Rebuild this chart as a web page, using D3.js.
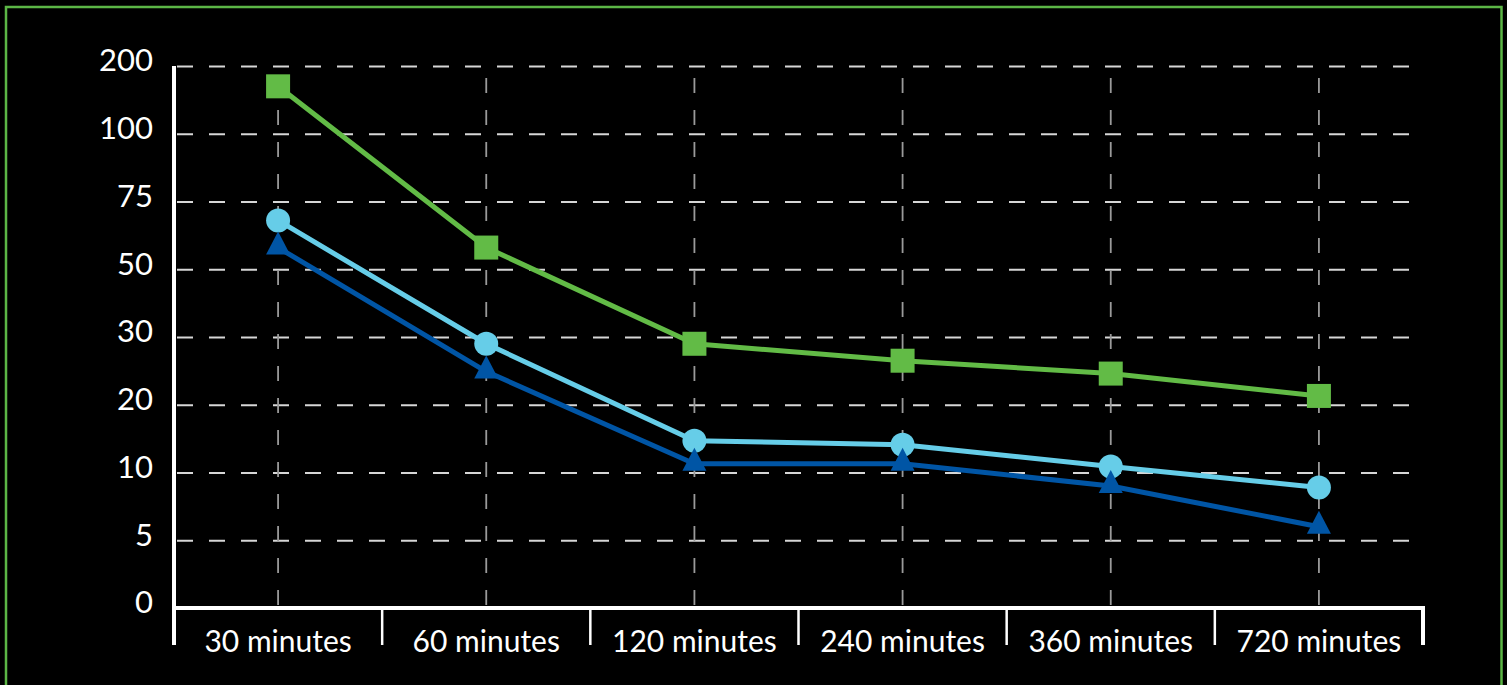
<!DOCTYPE html>
<html><head><meta charset="utf-8">
<script src="https://cdn.jsdelivr.net/npm/d3@7/dist/d3.min.js"></script>
<style>html,body{margin:0;padding:0;background:#000;overflow:hidden}</style>
</head><body>
<svg id="c" width="1507" height="685"></svg>
<script>
const categories = ["30 minutes","60 minutes","120 minutes","240 minutes","360 minutes","720 minutes"];
const yTicks = [0,5,10,20,30,50,75,100,200];
const greenSquares = [170,58,29,26.5,24.6,21.3];
const lightBlueCircles = [68,29,14.7,14.1,10.9,8.9];
const darkBlueTriangles = [58,24.9,11.3,11.3,9.0,6.0];

(function(){
const svg = d3.select("#c");
const W=1507,H=685;
svg.append("rect").attr("width",W).attr("height",H).attr("fill","#000");
svg.append("rect").attr("x",6).attr("y",7).attr("width",1495.5).attr("height",H+10)
  .attr("fill","none").attr("stroke","#5cb646").attr("stroke-width",2.5);

const pl=174,pr=1423,pt=66,pb=608;
const x=d3.scaleBand().domain(categories).range([pl,pr]).padding(0);
const step=(pb-pt)/(yTicks.length-1);
const y=d3.scaleLinear().domain(yTicks).range(yTicks.map((d,i)=>pb-i*step));

const hg=svg.append("g").attr("transform",`translate(${pl},0)`)
  .call(d3.axisLeft(y).tickValues(yTicks.slice(1)).tickSize(-(pr-pl)).tickFormat(""));
hg.select(".domain").remove();
hg.selectAll("line").attr("stroke","#d6d6d6").attr("stroke-width",1.8).attr("stroke-dasharray","16,16").attr("stroke-dashoffset",-3);

const vg=svg.append("g").attr("transform",`translate(0,${pb})`)
  .call(d3.axisBottom(x).tickSize(-(pb-pt)).tickFormat(""));
vg.select(".domain").remove();
vg.selectAll("line").attr("stroke","#9a9a9a").attr("stroke-width",1.8).attr("stroke-dasharray","15,17").attr("stroke-dashoffset",-3);

const yl=svg.append("g").attr("transform",`translate(${pl},0)`)
  .call(d3.axisLeft(y).tickValues(yTicks).tickSize(0).tickPadding(21));
yl.select(".domain").remove();
yl.selectAll("text").attr("fill","#fff").attr("font-family","Lato, sans-serif").attr("font-size",31).attr("dy","0.16em");

svg.append("line").attr("x1",pl-2).attr("x2",pr+2).attr("y1",pb).attr("y2",pb).attr("stroke","#fff").attr("stroke-width",4);
svg.append("line").attr("x1",pl).attr("x2",pl).attr("y1",pt).attr("y2",645).attr("stroke","#fff").attr("stroke-width",4);
const bounds=categories.map(c=>x(c)).concat([pr]);
svg.append("g").selectAll("line").data(bounds.slice(1)).join("line")
  .attr("x1",d=>d).attr("x2",d=>d).attr("y1",pb).attr("y2",645)
  .attr("stroke","#fff").attr("stroke-width",(d,i)=>i===bounds.length-2?4:2.5);
svg.append("g").selectAll("text").data(categories).join("text")
  .attr("x",d=>x(d)+x.bandwidth()/2).attr("y",652).attr("text-anchor","middle")
  .attr("fill","#fff").attr("font-family","Lato, sans-serif").attr("font-size",30).text(d=>d);

const cx=c=>x(c)+x.bandwidth()/2;
function series(vals,color){
  const pts=vals.map((v,i)=>[cx(categories[i]),y(v)]);
  svg.append("path").attr("d",d3.line()(pts)).attr("fill","none").attr("stroke",color).attr("stroke-width",5).attr("stroke-linejoin","round");
  return pts;
}
const gp=series(greenSquares,"#62bb46");
svg.append("g").selectAll("rect").data(gp).join("rect")
  .attr("x",d=>d[0]-12).attr("y",d=>d[1]-12).attr("width",24).attr("height",24).attr("fill","#62bb46");
const lp=series(lightBlueCircles,"#66cde8");
svg.append("g").selectAll("circle").data(lp).join("circle")
  .attr("cx",d=>d[0]).attr("cy",d=>d[1]).attr("r",12).attr("fill","#66cde8");
const dp=series(darkBlueTriangles,"#0055a5");
svg.append("g").selectAll("path").data(dp).join("path")
  .attr("d",d=>`M${d[0]},${d[1]-16}L${d[0]+12},${d[1]+7}L${d[0]-12},${d[1]+7}Z`).attr("fill","#0055a5");
})();
</script>
</body></html>
